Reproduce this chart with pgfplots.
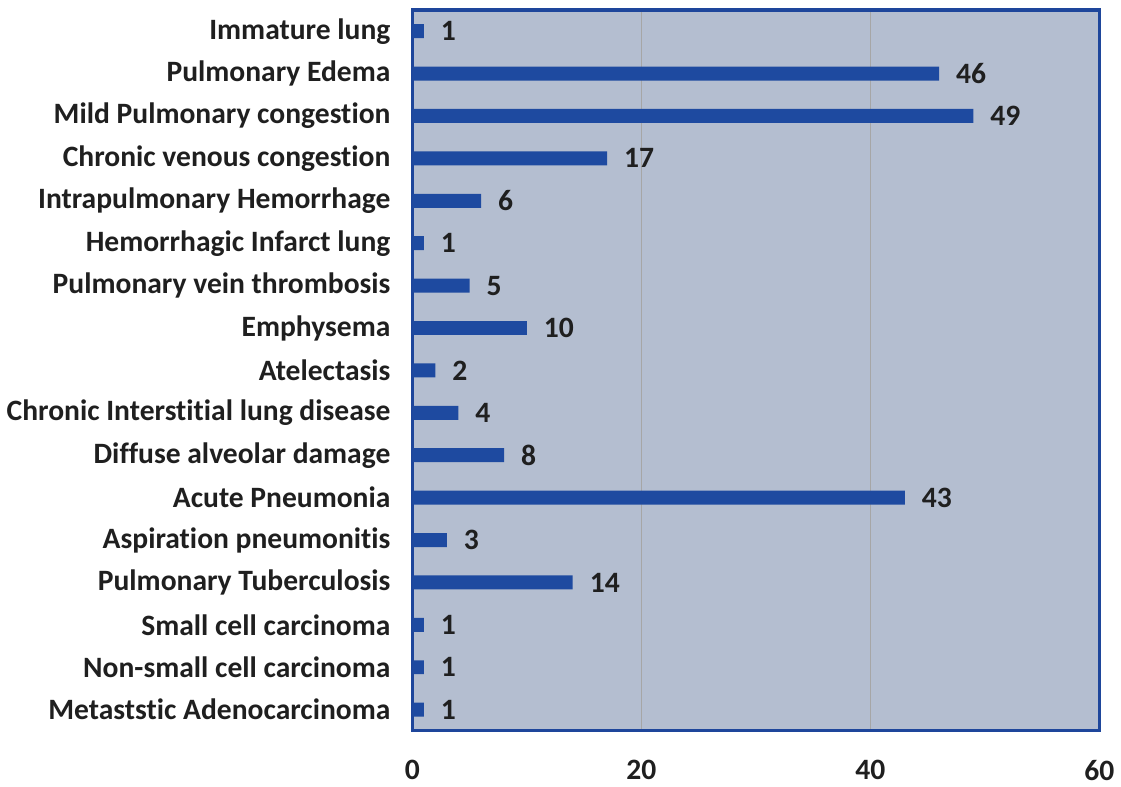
\documentclass[border=0pt]{standalone}
\usepackage{pgfplots}
\pgfplotsset{compat=1.18}
\usepackage{fontspec}
\setmainfont[Ligatures=NoCommon]{Carlito}
\definecolor{bgc}{RGB}{180,190,208}
\definecolor{barc}{RGB}{30,74,160}
\definecolor{framec}{RGB}{30,70,155}
\begin{document}
\begin{tikzpicture}
\begin{axis}[
  scale only axis,
  width=344pt, height=361pt,
  xbar, bar width=7pt,
  xmin=0, xmax=60, ymin=-0.5, ymax=16.5,
  xtick={0,20,40,60},
  ytick={0,...,16},
  yticklabels={Metaststic Adenocarcinoma,Non-small cell carcinoma,Small cell carcinoma,Pulmonary Tuberculosis,Aspiration pneumonitis,Acute Pneumonia,Diffuse alveolar damage,Chronic Interstitial lung disease,Atelectasis,Emphysema,Pulmonary vein thrombosis,Hemorrhagic Infarct lung,Intrapulmonary Hemorrhage,Chronic venous congestion,Mild Pulmonary congestion,Pulmonary Edema,Immature lung},
  yticklabel style={font=\fontsize{14.8}{17}\selectfont\bfseries, xshift=-7.5pt, text=black!88},
  xticklabel style={font=\fontsize{14.8}{17}\selectfont\bfseries, yshift=-11pt, text=black!88},
  /pgf/number format/assume math mode=true,
  major tick length=0pt,
  xmajorgrids, grid style={gray!70, line width=0.6pt},
  axis background/.style={fill=bgc},
  axis line style={framec, line width=1.6pt},
  nodes near coords,
  nodes near coords style={font=\fontsize{14.8}{17}\selectfont\bfseries, text=black!88, xshift=5pt},
  point meta=x,
]
\addplot[fill=barc, draw=none] coordinates {
(1,0) (1,1) (1,2) (14,3) (3,4) (43,5) (8,6) (4,7) (2,8) (10,9) (5,10) (1,11) (6,12) (17,13) (49,14) (46,15) (1,16)
};
\end{axis}
\path ([yshift=5pt]current axis.north);
\path ([yshift=-27.5pt]current axis.south);
\path ([xshift=8pt]current axis.east);
\end{tikzpicture}
\end{document}
